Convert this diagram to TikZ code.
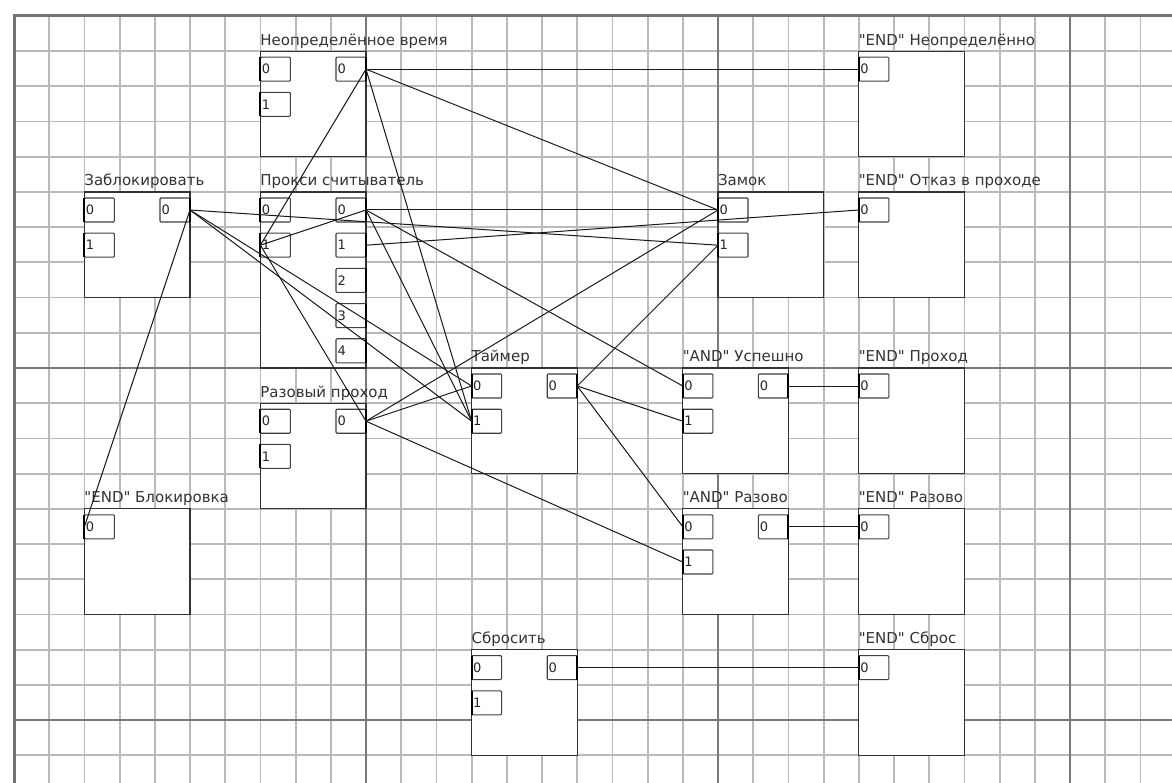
\documentclass[tikz,border=0pt]{standalone}
\usepackage{fontspec}
\setmainfont{DejaVu Sans}[Ligatures=TeXOff]
\newcommand\cs{35.2}
\tikzset{
  gridminor/.style={draw=black!27, line width=1.8pt},
  gridmajor/.style={draw=black!52, line width=2.3pt},
  gridborder/.style={draw=black!55, line width=3pt},
  blockbox/.style={draw=black!80, line width=1.3pt, fill=white, rectangle,
    minimum width=105.6pt, inner sep=0pt, outer sep=0pt},
  blocklabel/.style={inner sep=0pt, outer sep=0pt, text=black!80,
    font=\fontsize{15}{17}\selectfont},
  portbox/.style={draw=black!75, line width=1.1pt, fill=white, rectangle,
    rounded corners=1pt, minimum height=24pt, text width=27pt, align=left,
    inner xsep=1.5pt, inner ysep=0pt, outer sep=0pt, text=black!85,
    font=\fontsize{13}{13}\selectfont},
  portedge/.style={draw=black, line width=2pt},
  wire/.style={draw=black!90, line width=1pt}
}
\newcommand\blockat[5]{%
  \node[blockbox, minimum height={#4*\cs pt}, anchor=north west] (#1) at ({14+\cs*#2},{16+\cs*#3}) {};
  \node[blocklabel, anchor=base west] (#1-lbl) at ({14+\cs*#2},{16+\cs*#3-6}) {#5};
}
\newcommand\inports[4]{%
  \foreach \k in {#4} {
    \node[portbox, anchor=north west] (#1-i\k) at ({14+\cs*#2},{16+\cs*#3+6+\cs*\k}) {\k};
    \draw[portedge] (#1-i\k.north west) -- (#1-i\k.south west);
  }
}
\newcommand\outports[4]{%
  \foreach \k in {#4} {
    \node[portbox, anchor=north east] (#1-o\k) at ({14+\cs*#2},{16+\cs*#3+6+\cs*\k}) {\k};
    \draw[portedge] (#1-o\k.north east) -- (#1-o\k.south east);
  }
}
\begin{document}
\begin{tikzpicture}[x=1pt,y=-1pt]
\useasboundingbox (0,0) rectangle (1172,783);
\fill[white] (0,0) rectangle (1172,783);
% grid
\foreach \i in {1,...,32} { \draw[gridminor] ({14+\cs*\i},16) -- ({14+\cs*\i},783); }
\foreach \j in {1,...,21} { \draw[gridminor] (14,{16+\cs*\j}) -- (1172,{16+\cs*\j}); }
\foreach \i in {10,20,30} { \draw[gridmajor] ({14+\cs*\i},16) -- ({14+\cs*\i},783); }
\foreach \j in {10,20} { \draw[gridmajor] (14,{16+\cs*\j}) -- (1172,{16+\cs*\j}); }
\draw[gridborder] (14,783) -- (14,16) -- (1172,16);

% blocks
\blockat{neo}{7}{1}{3}{Неопределённое время}
\blockat{zab}{2}{5}{3}{Заблокировать}
\blockat{prx}{7}{5}{5}{Прокси считыватель}
\blockat{raz}{7}{11}{3}{Разовый проход}
\blockat{endblk}{2}{14}{3}{"END" Блокировка}
\blockat{tmr}{13}{10}{3}{Таймер}
\blockat{zam}{20}{5}{3}{Замок}
\blockat{endneo}{24}{1}{3}{"END" Неопределённо}
\blockat{endotk}{24}{5}{3}{"END" Отказ в проходе}
\blockat{andusp}{19}{10}{3}{"AND" Успешно}
\blockat{endpro}{24}{10}{3}{"END" Проход}
\blockat{andraz}{19}{14}{3}{"AND" Разово}
\blockat{endraz}{24}{14}{3}{"END" Разово}
\blockat{sbr}{13}{18}{3}{Сбросить}
\blockat{endsbr}{24}{18}{3}{"END" Сброс}

% ports
\inports{neo}{7}{1}{0,1}   \outports{neo}{10}{1}{0}
\inports{zab}{2}{5}{0,1}   \outports{zab}{5}{5}{0}
\inports{prx}{7}{5}{0,1}   \outports{prx}{10}{5}{0,1,2,3,4}
\inports{raz}{7}{11}{0,1}  \outports{raz}{10}{11}{0}
\inports{endblk}{2}{14}{0}
\inports{tmr}{13}{10}{0,1} \outports{tmr}{16}{10}{0}
\inports{zam}{20}{5}{0,1}
\inports{endneo}{24}{1}{0}
\inports{endotk}{24}{5}{0}
\inports{andusp}{19}{10}{0,1} \outports{andusp}{22}{10}{0}
\inports{endpro}{24}{10}{0}
\inports{andraz}{19}{14}{0,1} \outports{andraz}{22}{14}{0}
\inports{endraz}{24}{14}{0}
\inports{sbr}{13}{18}{0,1} \outports{sbr}{16}{18}{0}
\inports{endsbr}{24}{18}{0}

% connectors
\draw[wire] (neo-o0.east) -- (endneo-i0.west);
\draw[wire] (neo-o0.east) -- (zam-i0.west);
\draw[wire] (neo-o0.east) -- (prx-i1.west);
\draw[wire] (neo-o0.east) -- (tmr-i1.west);
\draw[wire] (zab-o0.east) -- (zam-i1.west);
\draw[wire] (zab-o0.east) -- (tmr-i0.west);
\draw[wire] (zab-o0.east) -- (tmr-i1.west);
\draw[wire] (zab-o0.east) -- (endblk-i0.west);
\draw[wire] (prx-o0.east) -- (zam-i0.west);
\draw[wire] (prx-o0.east) -- (prx-i1.west);
\draw[wire] (prx-o0.east) -- (andusp-i0.west);
\draw[wire] (prx-o0.east) -- (tmr-i1.west);
\draw[wire] (prx-o1.east) -- (endotk-i0.west);
\draw[wire] (raz-o0.east) -- (prx-i1.west);
\draw[wire] (raz-o0.east) -- (zam-i0.west);
\draw[wire] (raz-o0.east) -- (tmr-i0.west);
\draw[wire] (raz-o0.east) -- (andraz-i1.west);
\draw[wire] (tmr-o0.east) -- (zam-i1.west);
\draw[wire] (tmr-o0.east) -- (andusp-i1.west);
\draw[wire] (tmr-o0.east) -- (andraz-i0.west);
\draw[wire] (andusp-o0.east) -- (endpro-i0.west);
\draw[wire] (andraz-o0.east) -- (endraz-i0.west);
\draw[wire] (sbr-o0.east) -- (endsbr-i0.west);
\end{tikzpicture}
\end{document}
